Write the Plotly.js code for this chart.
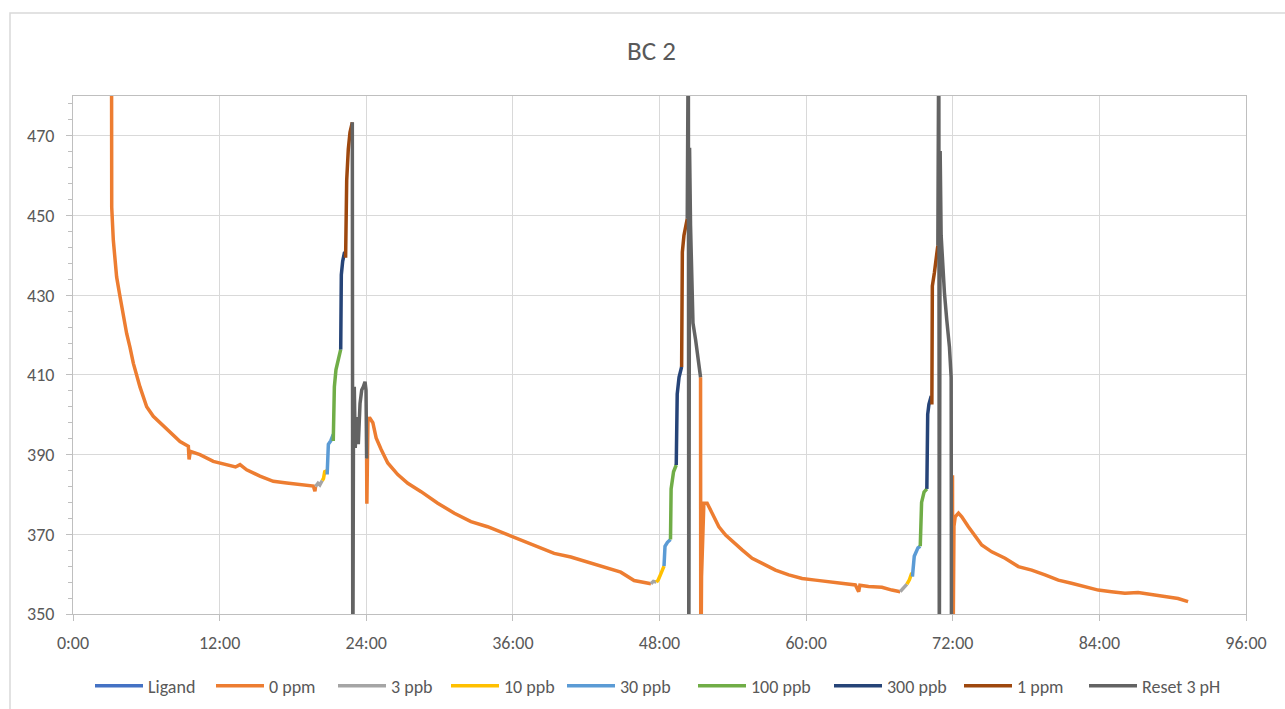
<!DOCTYPE html>
<html>
<head>
<meta charset="utf-8">
<script src="https://cdn.plot.ly/plotly-3.0.1.min.js"></script>
<style>html,body{margin:0;padding:0;background:#fff;}#chart{width:1285px;height:709px;}</style>
</head>
<body>
<div id="chart"></div>
<script>
// ---- Data (time in hours) ----
const seriesNames = ["Ligand","0 ppm","3 ppb","10 ppb","30 ppb","100 ppb","300 ppb","1 ppm","Reset 3 pH"];
const seriesColors = ["#4472C4","#ED7D31","#A5A5A5","#FFC000","#5B9BD5","#70AD47","#264478","#9E480E","#636363"];
const xTickVals = [0,12,24,36,48,60,72,84,96];
const xTickText = ["0:00","12:00","24:00","36:00","48:00","60:00","72:00","84:00","96:00"];
const yTickVals = [350,370,390,410,430,450,470];

// Ligand has no visible points in the chart
const ligandT = [0];
const ligandV = [null];

const ppm0T = [3.15,3.17,3.30,3.57,3.85,4.12,4.39,4.66,4.94,5.48,6.03,6.57,7.12,7.94,8.76,9.44,9.50,9.60,10.39,11.48,12.58,13.30,13.67,14.21,15.30,16.39,17.49,18.58,19.67,19.80,19.85,
  null,
  24.03,24.05,24.14,24.26,24.54,24.81,25.22,25.76,26.58,27.40,28.49,29.85,31.21,32.57,33.93,35.29,36.66,38.02,39.38,40.74,42.10,43.46,44.83,45.92,46.73,47.30,
  null,
  51.36,51.38,51.44,51.63,51.90,52.31,52.86,53.41,53.95,54.76,55.58,56.40,57.49,58.58,59.67,60.76,61.85,62.93,64.03,64.30,64.40,65.11,66.20,67.02,67.70,
  null,
  71.98,72.00,72.10,72.20,72.47,72.74,73.28,73.83,74.37,75.19,76.28,77.37,78.46,79.55,80.64,81.72,82.82,83.91,84.99,86.09,87.17,88.26,89.35,90.44,91.26];
const ppm0V = [500,452.0,443.8,434.6,429.6,424.6,420.4,417.0,412.9,407.0,402.0,399.6,398.0,395.4,393.3,392.1,388.8,390.8,390.0,388.3,387.5,386.9,387.5,386.2,384.6,383.3,382.9,382.5,382.1,380.8,382.0,
  null,
  389.0,377.7,398.5,399.3,398.0,394.2,391.3,387.9,385.0,382.8,380.7,377.8,375.3,373.2,371.9,370.2,368.5,366.8,365.2,364.3,363.1,361.8,360.5,358.4,358.0,357.6,
  null,
  409.4,330,359.4,377.8,377.8,375.3,371.9,369.8,368.2,366.1,364.0,362.7,361.0,359.8,358.9,358.5,358.1,357.7,357.3,355.6,357.2,356.9,356.7,356.0,355.6,
  null,
  384.8,330,372.0,374.4,375.3,374.4,371.9,369.4,367.3,365.6,364.0,361.9,361.0,359.8,358.5,357.7,356.9,356.0,355.6,355.2,355.4,354.8,354.4,353.9,353.1];

const ppb3T = [19.85,20.05,20.20,20.40, null, 47.30,47.50,47.75, null, 67.70,67.95,68.25];
const ppb3V = [382.0,382.8,382.4,383.5, null, 357.6,358.2,358.0, null, 355.6,356.5,357.5];

const ppb10T = [20.40,20.50,20.60,20.80, null, 47.75,47.90,48.10,48.37, null, 68.25,68.45,68.65];
const ppb10V = [383.5,384.0,385.7,386.0, null, 358.0,358.6,360.0,362.0, null, 357.5,358.6,360.3];

const ppb30T = [20.80,20.90,21.10,21.30, null, 48.37,48.45,48.65,48.90, null, 68.70,68.85,69.15,69.34];
const ppb30V = [385.0,392.6,393.5,395.1, null, 362.0,367.0,368.0,368.7, null, 359.4,364.5,366.6,367.0];

const ppb100T = [21.30,21.39,21.52,21.71,21.91, null, 48.90,48.95,49.15,49.37, null, 69.34,69.45,69.65,69.88];
const ppb100V = [393.4,407.0,411.3,413.8,416.4, null, 368.7,381.4,385.7,387.4, null, 367.0,378.0,380.6,381.4];

const ppb300T = [21.91,21.96,22.07,22.21,22.31, null, 49.37,49.45,49.60,49.81, null, 69.88,69.95,70.05,70.24];
const ppb300V = [416.4,435.1,438.5,440.6,440.8, null, 387.4,405.2,409.4,412.0, null, 381.4,400.1,402.6,404.7];

const ppm1T = [22.31,22.40,22.53,22.67,22.86, null, 49.81,49.87,50.00,50.27, null, 70.29,70.33,70.50,70.65,70.78];
const ppm1V = [439.4,458.9,466.6,470.9,473.4, null, 412.0,440.8,445.0,449.2, null, 402.6,432.3,435.7,439.9,442.5];

const resetT = [22.86,22.90,22.95,23.02,23.10,23.21,23.35,23.49,23.63,23.76,23.90,23.98,24.03,
  null, 50.27,50.36,50.40,50.46,50.54,50.63,50.74,50.96,51.17,51.36,
  null, 70.78,70.86,70.90,70.97,71.05,71.16,71.32,71.51,71.73,71.87,71.90];
const resetV = [473.4,330,391.7,407.0,391.7,399.4,392.6,402.8,406.2,407.0,408.3,406.2,389.0,
  null, 449.2,500,330,467.0,447.5,430.6,423.0,418.7,414.5,409.4,
  null, 442.5,500,330,466.2,445.0,437.4,430.6,423.8,417.0,409.4,330];

const allT = [ligandT,ppm0T,ppb3T,ppb10T,ppb30T,ppb100T,ppb300T,ppm1T,resetT];
const allV = [ligandV,ppm0V,ppb3V,ppb10V,ppb30V,ppb100V,ppb300V,ppm1V,resetV];

// pixel x where each legend entry's line sample starts (layout only)
const legendStartPx = [95,216,338,451,567,698,834,964,1089];

const FONT = "Calibri, Carlito, Lato, 'Liberation Sans', sans-serif";
const TXT = "#595959";

const legendKey = i => (i === 0 ? "legend" : "legend" + (i + 1));

const traces = seriesNames.map((n,i) => ({
  type: "scatter", mode: "lines", name: n,
  x: allT[i], y: allV[i],
  connectgaps: false,
  showlegend: true,
  legend: legendKey(i),
  line: {color: seriesColors[i], width: 3.5},
  hoverinfo: "x+y+name"
}));

const layout = {
  width: 1285, height: 709, autosize: false,
  margin: {l: 73, r: 39, t: 96, b: 95, pad: 0},
  paper_bgcolor: "#ffffff", plot_bgcolor: "#ffffff",
  font: {family: FONT, size: 18, color: TXT},
  title: {text: "BC 2", font: {family: FONT, size: 27, color: TXT},
          xref: "container", x: 0.507, xanchor: "center", yref: "container", y: 0.928, yanchor: "middle"},
  xaxis: {
    range: [0, 96], tickmode: "array", tickvals: xTickVals, ticktext: xTickText,
    showgrid: true, gridcolor: "#d9d9d9", gridwidth: 1,
    showline: true, linecolor: "#bfbfbf", linewidth: 1, mirror: true,
    ticks: "outside", ticklen: 6, tickcolor: "#bfbfbf",
    ticklabelstandoff: 6,
    zeroline: false, fixedrange: true,
    tickfont: {family: FONT, size: 18, color: TXT}
  },
  yaxis: {
    range: [350, 480], tickmode: "array", tickvals: yTickVals,
    showgrid: true, gridcolor: "#d9d9d9", gridwidth: 1,
    showline: true, linecolor: "#bfbfbf", linewidth: 1, mirror: true,
    ticks: "outside", ticklen: 6, tickcolor: "#bfbfbf",
    minor: {dtick: 4, tick0: 350, ticks: "outside", ticklen: 4, tickcolor: "#bfbfbf", showgrid: false},
    ticklabelstandoff: 8,
    zeroline: false, fixedrange: true,
    tickfont: {family: FONT, size: 18, color: TXT}
  },
  showlegend: true,
  shapes: [{type: "rect", xref: "paper", yref: "paper",
            x0: (10-73)/1173, x1: (1295-73)/1173, y0: (614-720)/518, y1: (614-13)/518,
            line: {color: "#d9d9d9", width: 1.5}, fillcolor: "rgba(0,0,0,0)", layer: "below"}]
};

legendStartPx.forEach((px, i) => {
  layout[legendKey(i)] = {
    orientation: "h", xref: "container", x: (px - 5) / 1285, xanchor: "left",
    yref: "container", y: 1 - 686/709, yanchor: "middle",
    font: {family: FONT, size: 18, color: TXT}, itemwidth: 48,
    bgcolor: "rgba(0,0,0,0)", borderwidth: 0
  };
});

Plotly.newPlot("chart", traces, layout, {displayModeBar: false, staticPlot: true});
</script>
</body>
</html>
